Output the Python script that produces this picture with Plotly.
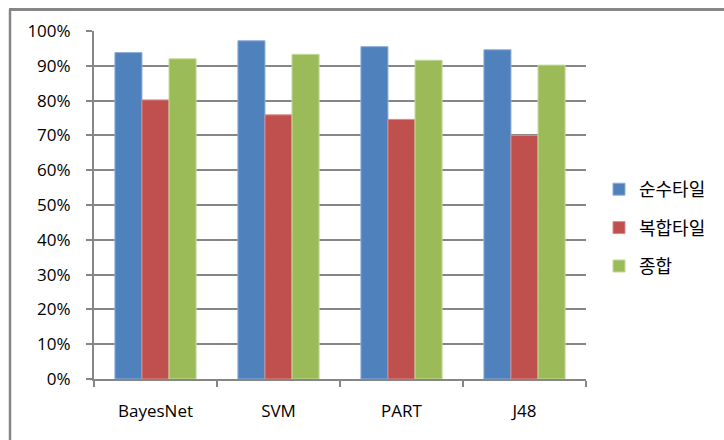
import plotly.graph_objects as go

categories = ["BayesNet", "SVM", "PART", "J48"]
series_names = ["순수타일", "복합타일", "종합"]
pure_tile = [0.938, 0.972, 0.955, 0.946]
mixed_tile = [0.802, 0.759, 0.746, 0.700]
overall = [0.920, 0.933, 0.916, 0.902]
colors = ["#4F81BD", "#C0504D", "#9BBB59"]
edge_colors = ["#8EAEDA", "#D98A88", "#C3D99A"]

fig = go.Figure()
for i, (name, vals) in enumerate(zip(series_names, [pure_tile, mixed_tile, overall])):
    fig.add_trace(go.Bar(
        x=categories, y=vals, name=name,
        marker=dict(color=colors[i], line=dict(color=edge_colors[i], width=1)),
        legendgroup=str(i),
    ))

L, R, T, B = 94, 586, 31, 379
W, H = 724, 440
pw, ph = R - L, B - T

def px(x):
    return (x - L) / pw

def py(y):
    return (B - y) / ph

gray = "#868686"
fig.update_layout(
    width=W, height=H,
    margin=dict(l=L, r=W - R, t=T, b=H - B, pad=0, autoexpand=False),
    paper_bgcolor="white", plot_bgcolor="white",
    barmode="group", bargap=0.34, bargroupgap=0,
    font=dict(family="Open Sans", size=17, color="black"),
    legend=dict(
        x=px(599), y=py(228), xanchor="left", yanchor="middle",
        font=dict(family="Noto Sans CJK KR", size=18, color="black"),
        traceorder="grouped", tracegroupgap=12,
        itemwidth=30,
    ),
    xaxis=dict(
        showline=True, linecolor=gray, linewidth=2,
        ticks="outside", tickson="boundaries", ticklen=6, tickwidth=2, tickcolor=gray,
        ticklabelstandoff=16, showgrid=False,
        tickfont=dict(family="Open Sans", size=17),
    ),
    yaxis=dict(
        range=[0, 1], dtick=0.1, tickformat=".0%",
        showline=True, linecolor=gray, linewidth=2,
        ticks="outside", ticklen=6, tickwidth=2, tickcolor=gray,
        showgrid=True, gridcolor=gray, gridwidth=2,
        zeroline=False, ticklabelstandoff=12,
        tickfont=dict(family="Open Sans", size=17),
    ),
    shapes=[
        dict(type="line", xref="paper", yref="paper",
             x0=px(10), x1=px(10), y0=py(9.5), y1=py(H + 5),
             line=dict(color=gray, width=2.5)),
        dict(type="line", xref="paper", yref="paper",
             x0=px(9), x1=px(W + 5), y0=py(9.5), y1=py(9.5),
             line=dict(color=gray, width=3)),
    ],
)

fig.write_html("out.html")
